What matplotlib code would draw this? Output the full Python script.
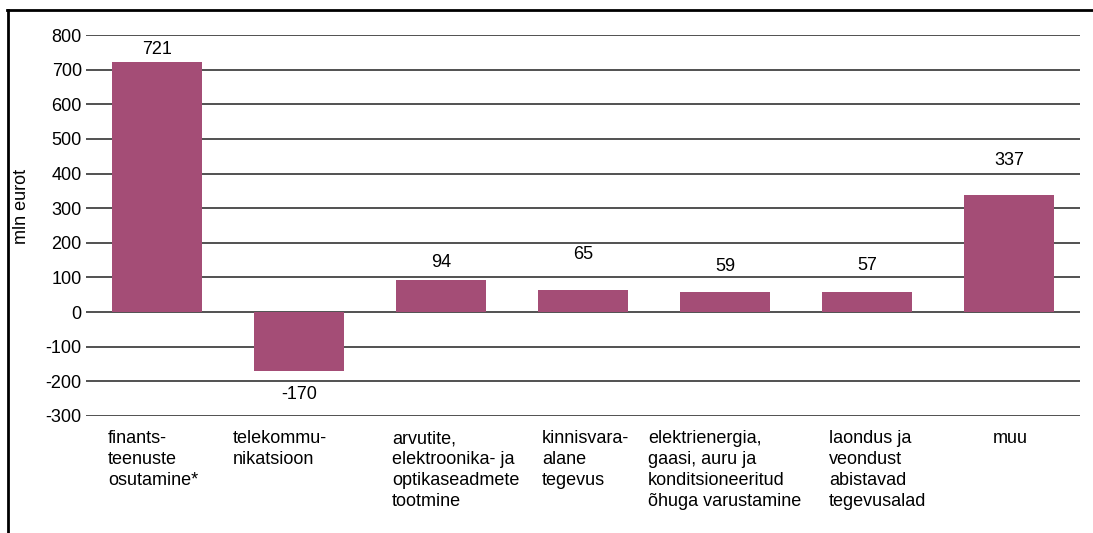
import matplotlib
matplotlib.use("Agg")
import matplotlib.pyplot as plt
from matplotlib.lines import Line2D
from matplotlib.transforms import offset_copy

plt.rcParams["font.family"] = ["Liberation Sans", "DejaVu Sans"]

# ── data ──────────────────────────────────────────────────────────────────────
categories = [
    "finants-\nteenuste\nosutamine*",
    "telekommu-\nnikatsioon",
    "arvutite,\nelektroonika- ja\noptikaseadmete\ntootmine",
    "kinnisvara-\nalane\ntegevus",
    "elektrienergia,\ngaasi, auru ja\nkonditsioneeritud\nõhuga varustamine",
    "laondus ja\nveondust\nabistavad\ntegevusalad",
    "muu",
]
values = [721, -170, 94, 65, 59, 57, 337]
yticks = [-300, -200, -100, 0, 100, 200, 300, 400, 500, 600, 700, 800]

# label placement (as in the original): value-label offsets in px from bar end,
# category-label left edges in bar units
label_offsets = [13, -24, 17, 35, 25, 27, 35]
cat_label_x = [-0.345, 0.535, 1.655, 2.711, 3.458, 4.732, 5.887]

BAR_COLOR = "#a44d76"
FS = 13

fig = plt.figure(figsize=(10.93, 5.33), dpi=100)
ax = fig.add_axes([86 / 1093, 1 - 416 / 533, (1080 - 86) / 1093, (416 - 35) / 533])

x = list(range(len(values)))
ax.bar(x, values, width=0.634, color=BAR_COLOR, zorder=3)

for yv in yticks:
    ax.axhline(yv, color="#222222", linewidth=1.1, zorder=2)

ax.set_xlim(-0.5, len(values) - 0.5)
ax.set_ylim(-300, 800)
ax.set_yticks(yticks)
ax.set_yticklabels([str(v) for v in yticks], fontsize=FS)
ax.tick_params(axis="y", length=0, pad=3)
ax.set_xticks([])
for s in ax.spines.values():
    s.set_visible(False)

ax.set_ylabel("mln eurot", fontsize=FS)
ax.yaxis.set_label_coords(-56 / 994, (416 - 206) / 381)

# value labels
for xi, v, off in zip(x, values, label_offsets):
    ax.annotate(str(v), (xi, v), xytext=(0, off * 0.72), textcoords="offset points",
                ha="center", va="center", fontsize=FS)

# category labels
lab_tr = offset_copy(ax.transData, fig=fig, x=0, y=-14, units="dots")
for lx, lab in zip(cat_label_x, categories):
    ax.text(lx, -300, lab, ha="left", va="top", fontsize=FS,
            linespacing=1.32, transform=lab_tr)

# outer frame: top and left edges only
fig.add_artist(Line2D([7 / 1093, 1], [1 - 10 / 533, 1 - 10 / 533], color="black", linewidth=2))
fig.add_artist(Line2D([8 / 1093, 8 / 1093], [0, 1 - 10 / 533], color="black", linewidth=2))

fig.savefig("out.png", dpi=100)
